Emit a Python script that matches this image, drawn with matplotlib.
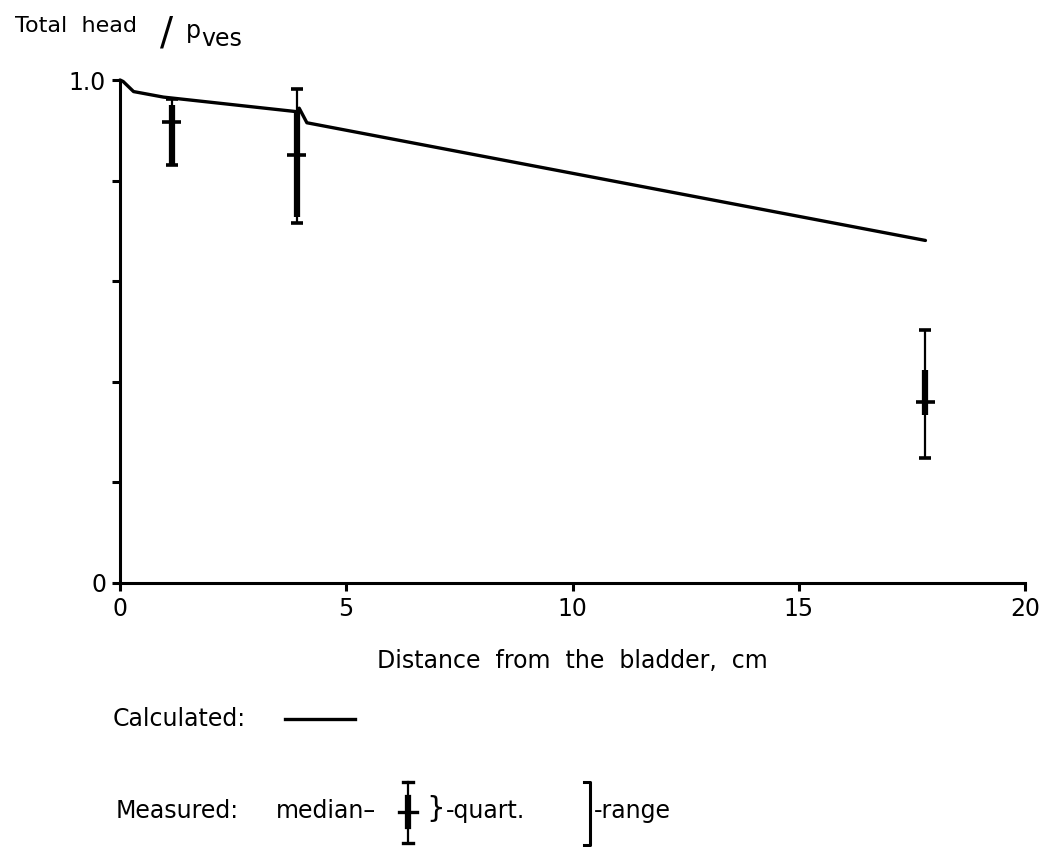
import matplotlib
matplotlib.use("Agg")
import matplotlib.pyplot as plt
import numpy as np

# calculated total head along the urethra
calc_x = [0.0, 0.07, 0.3, 0.96, 3.91, 3.96, 4.13, 17.8]
calc_y = [1.0, 0.997, 0.977, 0.966, 0.937, 0.944, 0.915, 0.681]

# measured points: median, quartiles, range
meas_x = [1.14, 3.91, 17.8]
med = [0.917, 0.851, 0.360]
q_lo = [0.831, 0.728, 0.334]
q_hi = [0.950, 0.940, 0.423]
r_lo = [0.831, 0.715, 0.249]
r_hi = [0.962, 0.982, 0.502]

xticks = [0, 5, 10, 15, 20]
yticks = [0, 0.2, 0.4, 0.6, 0.8, 1.0]
ytick_lbl = ["0", "", "", "", "", "1.0"]

W, H = 1042, 847
FS = 17
fig = plt.figure(figsize=(W / 100, H / 100), dpi=100)
ax = fig.add_axes([120 / W, 1 - 583 / H, 905 / W, 503 / H])

ax.plot(calc_x, calc_y, color="black", lw=2.4, clip_on=False, solid_capstyle="round")

# range: thin line with caps
ax.errorbar(meas_x, med, yerr=[np.subtract(med, r_lo), np.subtract(r_hi, med)],
            fmt="none", ecolor="black", elinewidth=1.6, capsize=4.5, capthick=2.6)
# quartiles: thick bar
ax.vlines(meas_x, q_lo, q_hi, color="black", lw=4.5)
# median tick
ax.errorbar(meas_x, med, xerr=0.21, fmt="none", ecolor="black", elinewidth=2.6)

ax.set_xlim(0, 20)
ax.set_ylim(0, 1.0)
ax.set_xticks(xticks)
ax.set_yticks(yticks)
ax.set_yticklabels(ytick_lbl)
for s in ("top", "right"):
    ax.spines[s].set_visible(False)
for s in ("left", "bottom"):
    ax.spines[s].set_linewidth(2.2)
ax.tick_params(direction="out", length=6, width=2.2, labelsize=FS, pad=4)
ax.set_xlabel("Distance  from  the  bladder,  cm", fontsize=FS, labelpad=20)

# y label at top left
fig.text(15 / W, 1 - 32 / H, "Total  head", fontsize=FS - 1, ha="left", va="baseline")
fig.text(160 / W, 1 - 44 / H, "/", fontsize=28, ha="left", va="baseline")
fig.text(186 / W, 1 - 38 / H, "p", fontsize=FS, ha="left", va="baseline")
fig.text(201 / W, 1 - 46 / H, "ves", fontsize=FS, ha="left", va="baseline")

# key below the plot, drawn in pixel coordinates
lg = fig.add_axes([0, 0, 1, 1])
lg.set_xlim(0, W)
lg.set_ylim(H, 0)
lg.axis("off")

cy = 719
lg.text(113, cy, "Calculated:", fontsize=FS, ha="left", va="center")
lg.plot([285, 355], [cy, cy], color="black", lw=2.4)

my = 811
lg.text(116, my, "Measured:", fontsize=FS, ha="left", va="center")
lg.text(276, my, "median\u2013", fontsize=FS, ha="left", va="center")
gx = 408
lg.plot([gx, gx], [782, 843], color="black", lw=1.6)
lg.plot([gx - 5, gx + 5], [782, 782], color="black", lw=2.4)
lg.plot([gx - 5, gx + 5], [843, 843], color="black", lw=2.4)
lg.plot([gx, gx], [798, 826], color="black", lw=4.5)
lg.plot([gx - 9, gx + 9], [812, 812], color="black", lw=2.4)
lg.text(426, my - 2, "}", fontsize=FS + 4, ha="left", va="center")
lg.text(446, my, "-quart.", fontsize=FS, ha="left", va="center")
bx = 590
lg.plot([bx - 6, bx, bx, bx - 6], [782, 782, 845, 845], color="black", lw=2.2)
lg.text(594, my, "-range", fontsize=FS, ha="left", va="center")

fig.savefig("out.png", dpi=100)
